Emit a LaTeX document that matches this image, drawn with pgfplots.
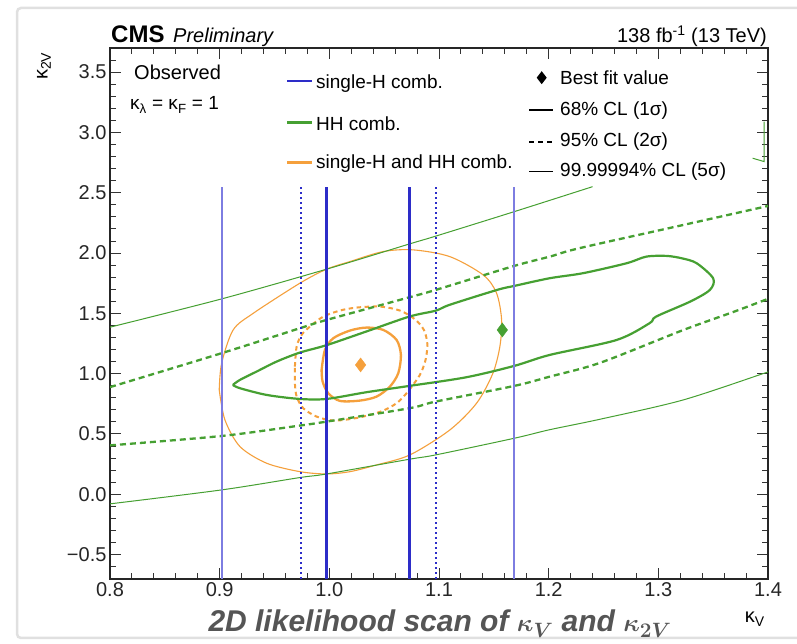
\documentclass[border=0pt]{standalone}
\usepackage{pgfplots}
\pgfplotsset{compat=1.18}
\usepackage{fontspec}
\setmainfont{Liberation Sans}
\definecolor{cblue}{RGB}{45,45,200}
\definecolor{cblueL}{RGB}{125,125,225}
\definecolor{cgreen}{RGB}{70,160,50}
\definecolor{corange}{RGB}{245,160,60}
\definecolor{ctitle}{RGB}{85,85,85}
\begin{document}
\begin{tikzpicture}
\useasboundingbox (0pt,0pt) rectangle (797pt,644pt);
\fill[white] (0pt,0pt) rectangle (797pt,644pt);
\draw[black!12, line width=2.5pt, rounded corners=4pt] (17pt,6pt) rectangle (830pt,636pt);
\begin{axis}[
  at={(110pt,65pt)}, anchor=south west,
  scale only axis, width=658pt, height=531pt,
  xmin=0.8, xmax=1.4, ymin=-0.703, ymax=3.7,
  xtick={0.8,0.9,1.0,1.1,1.2,1.3,1.4},
  xticklabels={0.8,0.9,1.0,1.1,1.2,1.3,1.4},
  ytick={-0.5,0,0.5,1,1.5,2,2.5,3,3.5},
  yticklabels={−0.5,0.0,0.5,1.0,1.5,2.0,2.5,3.0,3.5},
  minor x tick num=4,
  minor ytick={-0.6,-0.4,-0.3,-0.2,-0.1,0.1,0.2,0.3,0.4,0.6,0.7,0.8,0.9,1.1,1.2,1.3,1.4,1.6,1.7,1.8,1.9,2.1,2.2,2.3,2.4,2.6,2.7,2.8,2.9,3.1,3.2,3.3,3.4,3.6},
  tick align=inside, major tick length=11pt, minor tick length=6pt,
  every tick/.style={black!80, line width=0.9pt},
  axis line style={black!85, line width=1.3pt},
  ticklabel style={font=\fontsize{20}{24}\selectfont, text=black!85},
]
% ---- single-H + HH (orange) ----
\addplot[corange, line width=1.1pt, smooth] coordinates {
 (0.8996,0.865) (0.9018,1.086) (0.9123,1.362) (0.9306,1.50) (0.9732,1.75) (0.9975,1.866)
 (1.0188,1.929) (1.0491,2.012) (1.0765,2.026) (1.1099,1.970) (1.1403,1.818) (1.1525,1.667)
 (1.1571,1.445) (1.1555,1.224) (1.149,1.0) (1.1343,0.755) (1.1099,0.533) (1.0735,0.326)
 (1.0431,0.243) (1.0188,0.187) (0.9975,0.168) (0.9732,0.187) (0.9428,0.257) (0.9185,0.395)
 (0.9048,0.616) (0.8996,0.865)};
\addplot[corange, line width=2pt, dash pattern=on 4.5pt off 3.5pt, smooth] coordinates {
 (0.9686,1.0583) (0.9702,1.2242) (0.9747,1.3209) (0.9823,1.3900) (0.9945,1.4729) (1.0097,1.5227)
 (1.0249,1.5476) (1.0461,1.5558) (1.0644,1.5227) (1.0780,1.4508) (1.0862,1.3624) (1.0893,1.2518)
 (1.0881,1.1274) (1.0841,1.0168) (1.0796,0.9478) (1.0704,0.8372) (1.0613,0.7543) (1.0492,0.6935)
 (1.0370,0.6575) (1.0218,0.6271) (1.0036,0.6105) (0.9884,0.6437) (0.9762,0.7128) (0.9702,0.8095)
 (0.9686,0.9201) (0.9686,1.0583)};
\addplot[corange, line width=2.3pt, smooth] coordinates {
 (0.99295,1.0307) (0.99599,1.1965) (1.00359,1.2933) (1.01878,1.3568) (1.03397,1.3817) (1.04917,1.3624)
 (1.06132,1.2794) (1.06527,1.1551) (1.06284,1.0031) (1.05524,0.8925) (1.04309,0.8095) (1.02789,0.7764)
 (1.00966,0.7736) (0.99903,0.8372) (0.99386,0.9339) (0.99295,1.0307)};
% ---- HH (green) ----
\addplot[cgreen, line width=1pt, smooth] coordinates {
 (0.8,1.385) (0.902,1.62) (0.9975,1.866) (1.073,2.075) (1.097,2.14) (1.1686,2.343) (1.24,2.55)};
\addplot[cgreen, line width=1pt, smooth] coordinates {
 (0.8,-0.08) (0.902,0.036) (0.973,0.138) (0.9975,0.168) (1.073,0.29) (1.097,0.326) (1.1686,0.464)
 (1.201,0.535) (1.247,0.622) (1.322,0.78) (1.3955,1.0) (1.4,1.015)};
\addplot[cgreen, line width=1pt] coordinates {(1.386,2.786) (1.3965,2.758) (1.3965,3.09)};
\addplot[cgreen, line width=2.3pt, dash pattern=on 6pt off 4pt, smooth] coordinates {
 (0.8,0.888) (0.902,1.17) (0.973,1.376) (0.9975,1.445) (1.073,1.633) (1.097,1.694) (1.1686,1.893)
 (1.201,1.97) (1.228,2.04) (1.32,2.227) (1.4,2.39)};
\addplot[cgreen, line width=2.3pt, dash pattern=on 6pt off 4pt, smooth] coordinates {
 (0.8,0.405) (0.902,0.483) (0.973,0.569) (0.9975,0.602) (1.073,0.713) (1.097,0.768) (1.1686,0.898)
 (1.201,0.975) (1.247,1.09) (1.3223,1.36) (1.368,1.51) (1.4,1.62)};
\addplot[cgreen, line width=2.2pt, smooth] coordinates {
 (0.912,0.906) (0.9185,0.948) (0.9337,1.017) (0.952,1.10) (0.973,1.174) (0.9975,1.236) (1.034,1.35)
 (1.073,1.473) (1.097,1.522) (1.1099,1.571) (1.153,1.694) (1.1686,1.727) (1.201,1.791) (1.2315,1.833)
 (1.271,1.915) (1.289,1.97) (1.3075,1.976) (1.322,1.955) (1.335,1.915) (1.35,1.79) (1.347,1.694)
 (1.329,1.597) (1.298,1.473) (1.292,1.418) (1.262,1.279) (1.201,1.155) (1.1686,1.064) (1.125,0.97)
 (1.073,0.898) (1.034,0.846) (0.9975,0.79) (0.973,0.79) (0.943,0.823) (0.9185,0.879) (0.912,0.906)};
% ---- single-H (blue) ----
\addplot[cblueL, line width=1.7pt] coordinates {(0.9024,-0.703) (0.9024,2.548)};
\addplot[cblueL, line width=1.7pt] coordinates {(1.1686,-0.703) (1.1686,2.548)};
\addplot[cblue, line width=2pt, dash pattern=on 2.2pt off 2.8pt] coordinates {(0.9738,-0.703) (0.9738,2.548)};
\addplot[cblue, line width=2pt, dash pattern=on 2.2pt off 2.8pt] coordinates {(1.0975,-0.703) (1.0975,2.548)};
\addplot[cblue, line width=2.8pt] coordinates {(0.9975,-0.703) (0.9975,2.548)};
\addplot[cblue, line width=2.8pt] coordinates {(1.0732,-0.703) (1.0732,2.548)};
% ---- best fit ----
\addplot[only marks, mark=diamond*, mark size=7pt, mark options={fill=corange, draw=corange, solid}] coordinates {(1.0285,1.072)};
\addplot[only marks, mark=diamond*, mark size=7pt, mark options={fill=cgreen, draw=cgreen, solid}] coordinates {(1.1577,1.362)};
\end{axis}
% ---- header texts ----
\node[anchor=base west, inner sep=0, font=\fontsize{24}{28}\selectfont\bfseries] at (111pt,601pt) {CMS};
\node[anchor=base west, inner sep=0, font=\fontsize{20}{24}\selectfont\itshape] at (173pt,601pt) {Preliminary};
\node[anchor=base east, inner sep=0, font=\fontsize{20}{24}\selectfont] at (767pt,601pt) {138 fb\textsuperscript{-1} (13 TeV)};
\node[rotate=90, inner sep=0, font=\fontsize{20}{24}\selectfont] at (44pt,578pt) {κ\textsubscript{2V}};
\node[anchor=base east, inner sep=0, font=\fontsize{20}{24}\selectfont] at (765pt,21pt) {κ\textsubscript{V}};
\node[anchor=base, inner sep=0, font=\fontsize{30}{34}\selectfont\bfseries\itshape\boldmath, text=ctitle] at (440pt,12pt) {2D likelihood scan of $\kappa_{V}$ and $\kappa_{2V}$};
% ---- left text block ----
\node[anchor=base west, inner sep=0, font=\fontsize{20}{24}\selectfont] at (134pt,564pt) {Observed};
\node[anchor=base west, inner sep=0, font=\fontsize{19}{23}\selectfont] at (130pt,534pt) {κ\textsubscript{λ} = κ\textsubscript{F} = 1};
% ---- middle legend ----
\draw[cblue, line width=2.5pt] (287pt,563pt) -- (312pt,563pt);
\node[anchor=base west, inner sep=0, font=\fontsize{19}{23}\selectfont] at (316pt,555pt) {single-H comb.};
\draw[cgreen, line width=2.5pt] (287pt,521.3pt) -- (312pt,521.3pt);
\node[anchor=base west, inner sep=0, font=\fontsize{19}{23}\selectfont] at (316pt,513pt) {HH comb.};
\draw[corange, line width=2.5pt] (287pt,481.7pt) -- (312pt,481.7pt);
\node[anchor=base west, inner sep=0, font=\fontsize{19}{23}\selectfont] at (316pt,475.5pt) {single-H and HH comb.};
% ---- right legend ----
\fill[black] (541.7pt,572.8pt) -- (546.7pt,566.3pt) -- (541.7pt,559.8pt) -- (536.7pt,566.3pt) -- cycle;
\node[anchor=base west, inner sep=0, font=\fontsize{19}{23}\selectfont] at (560pt,559pt) {Best fit value};
\draw[black, line width=2.2pt] (529pt,533.7pt) -- (553pt,533.7pt);
\node[anchor=base west, inner sep=0, font=\fontsize{19}{23}\selectfont] at (560pt,528.5pt) {68\% CL (1σ)};
\draw[black, line width=2.2pt, dash pattern=on 5pt off 4pt] (529pt,502.3pt) -- (553pt,502.3pt);
\node[anchor=base west, inner sep=0, font=\fontsize{19}{23}\selectfont] at (560pt,497.5pt) {95\% CL (2σ)};
\draw[black, line width=1pt] (529pt,472.3pt) -- (553pt,472.3pt);
\node[anchor=base west, inner sep=0, font=\fontsize{19}{23}\selectfont] at (560pt,467.5pt) {99.99994\% CL (5σ)};
\end{tikzpicture}
\end{document}
